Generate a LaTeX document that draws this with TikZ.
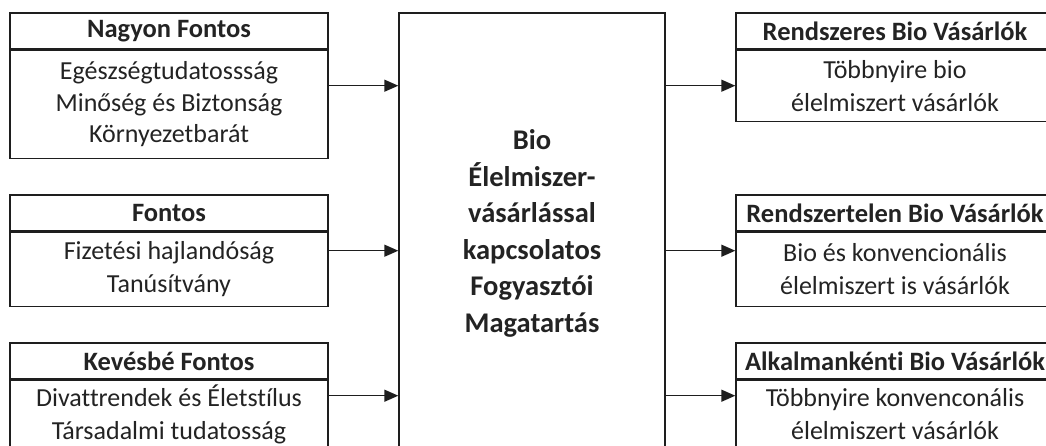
\documentclass[tikz,border=0pt]{standalone}
\usepackage{fontspec}
\setmainfont{Carlito}[Ligatures=CommonOff]
\usetikzlibrary{arrows.meta,positioning,calc}
\definecolor{ink}{RGB}{30,30,30}
\definecolor{textc}{RGB}{35,35,35}

\begin{document}
\begin{tikzpicture}[x=1pt, y=-1pt,
  font=\fontsize{26}{33}\selectfont, text=textc, >={Triangle[length=14pt,width=12pt]},
  head/.style={draw=ink, line width=1.4pt, minimum width=318pt, minimum height=36pt, inner sep=0pt, font=\fontsize{26.5}{34}\selectfont\bfseries},
  body/.style={draw=ink, line width=1.4pt, minimum width=318pt, inner sep=0pt, align=center, anchor=north},
  core/.style={draw=ink, line width=1.4pt, minimum width=266pt, minimum height=441pt, inner sep=0pt, align=center, font=\fontsize{28.5}{36.6}\selectfont\bfseries},
  flow/.style={->, line width=1.4pt, draw=ink},
]
\useasboundingbox (0,0) rectangle (1046,446);
% ------------------------------------------------------------------ left: factors
\node[head] (l1h) at (169,31) {Nagyon Fontos};
\node[body, minimum height=108pt, font=\fontsize{26}{31.5}\selectfont] (l1b) at (l1h.south)
  {Egészségtudatossság\\Minőség és Biztonság\\Környezetbarát};

\node[head] (l2h) at (169,213) {Fontos};
\node[body, minimum height=74pt] (l2b) at (l2h.south)
  {Fizetési hajlandóság\\Tanúsítvány};

\node[head] (l3h) at (169,361) {Kevésbé Fontos};
\node[body, minimum height=68pt] (l3b) at (l3h.south)
  {Divattrendek és Életstílus\\Társadalmi tudatosság};

% ------------------------------------------------------------------ centre
\node[core] (bio) at (532,233.5)
  {Bio\\Élelmiszer-\\vásárlással\\kapcsolatos\\Fogyasztói\\Magatartás};

% ------------------------------------------------------------------ right: buyer groups
\node[head] (r1h) at (895,31) {Rendszeres Bio Vásárlók};
\node[body, minimum height=71pt] (r1b) at (r1h.south)
  {Többnyire bio\\élelmiszert vásárlók};

\node[head] (r2h) at (895,213) {Rendszertelen Bio Vásárlók};
\node[body, minimum height=74pt] (r2b) at (r2h.south)
  {Bio és konvencionális\\élelmiszert is vásárlók};

\node[head] (r3h) at (895,361) {Alkalmankénti Bio Vásárlók};
\node[body, minimum height=68pt] (r3b) at (r3h.south)
  {Többnyire konvenconális\\élelmiszert vásárlók};

% ------------------------------------------------------------------ arrows
\foreach \i in {1,2,3} {
  \coordinate (a\i) at ($(l\i h.north east)!0.5!(l\i b.south east)$);
  \draw[flow] (a\i) -- (a\i -| bio.west);
  \draw[flow] (a\i -| bio.east) -- (a\i -| r\i h.west);
}
\end{tikzpicture}
\end{document}
